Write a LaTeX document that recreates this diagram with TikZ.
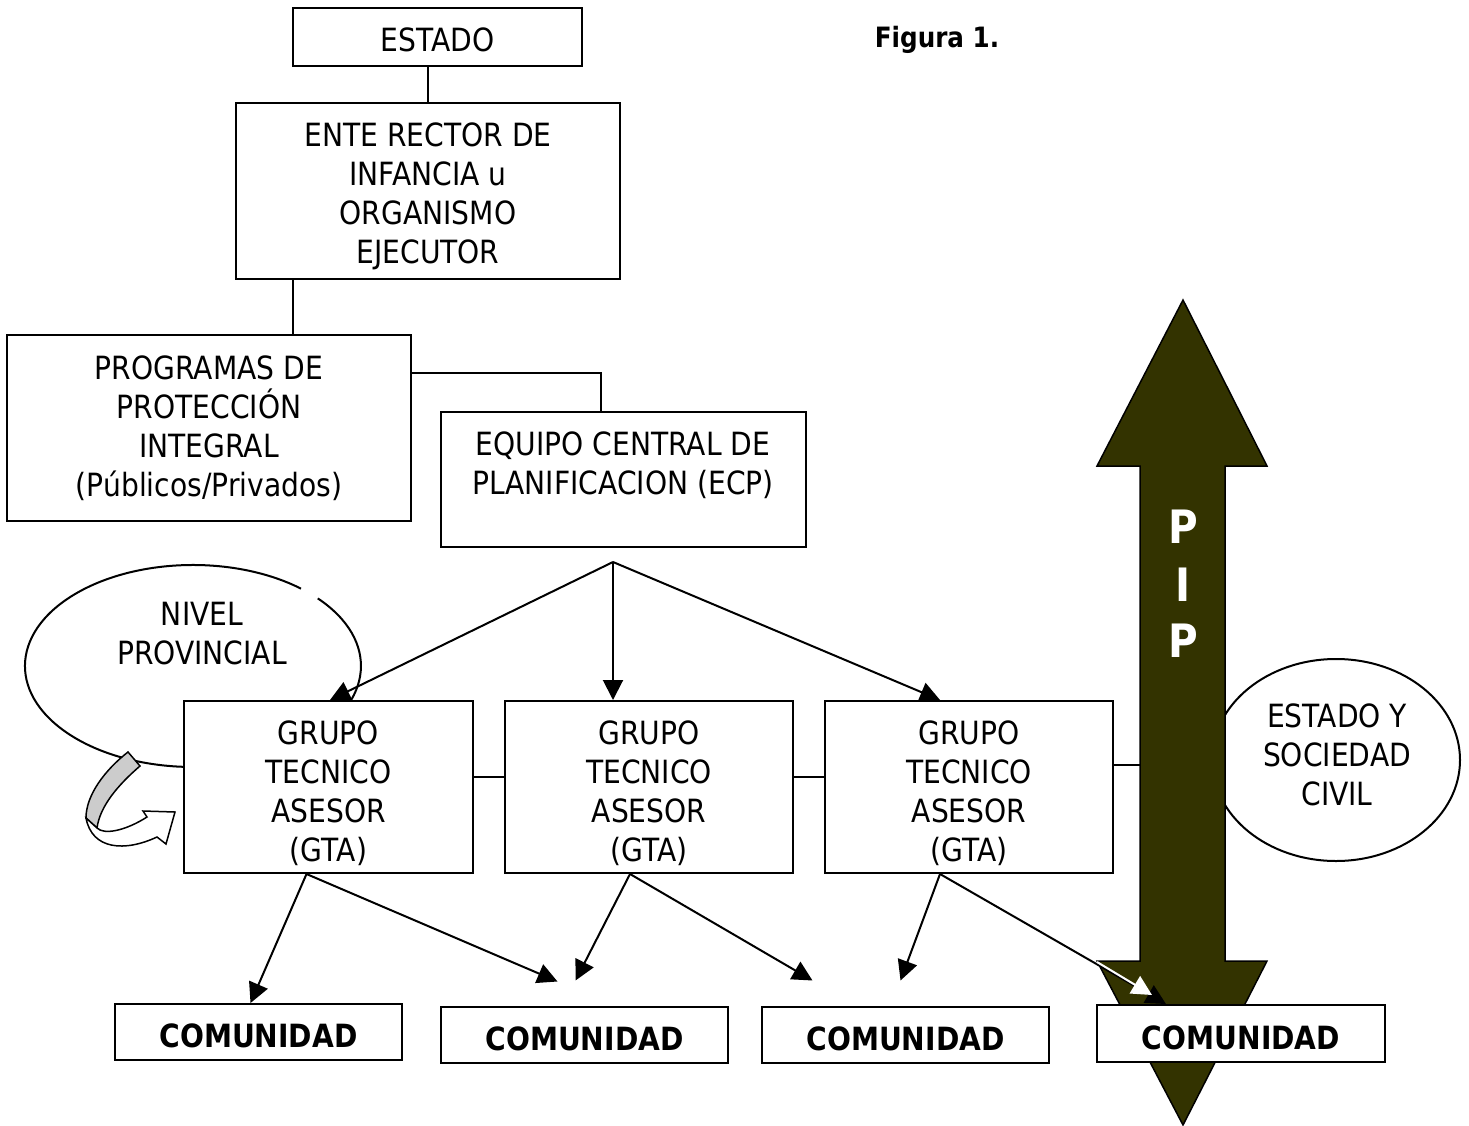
\documentclass[tikz,border=0pt]{standalone}
\usepackage{fontspec}
\setmainfont{DejaVu Sans}[FakeStretch=0.88]
\usetikzlibrary{arrows.meta,calc}
\definecolor{pipcol}{HTML}{333300}
\definecolor{bandgray}{HTML}{CCCCCC}
\newcommand{\txtdrop}[1]{\rule{0pt}{#1pt}}
\begin{document}
\begin{tikzpicture}[x=1pt,y=-1pt,
  box/.style={draw, line width=2pt, fill=white, inner sep=0pt, align=center,
    font=\fontsize{32}{39}\selectfont},
  combox/.style={box, minimum width=287pt, minimum height=56pt,
    font=\fontsize{32}{39}\selectfont\bfseries},
  gtabox/.style={box, minimum width=289pt, minimum height=172pt},
  txt/.style={align=center, inner sep=0pt, font=\fontsize{32}{39}\selectfont},
  conn/.style={line width=2pt},
  arr/.style={line width=2pt, -{Triangle[length=20pt,width=20pt]}},
  warr/.style={line width=2pt, white, -{Triangle[length=20pt,width=20pt]}}]
\useasboundingbox (0,0) rectangle (1469,1126);

% background ellipses
\draw[line width=2pt] (317.8,598.4) arc[start angle=-42, end angle=310, x radius=168, y radius=101];
\node[txt] (nivel) at (202,634) {NIVEL\\PROVINCIAL};
\draw[line width=2pt, fill=white] (1336,760) ellipse[x radius=124, y radius=101];
\node[txt] (soc) at (1337,755) {ESTADO Y\\SOCIEDAD\\CIVIL};

% PIP double arrow
\draw[line width=1.5pt, fill=pipcol] (1183,300) -- (1267,466) -- (1225,466) -- (1225,961) -- (1267,961)
  -- (1183,1125) -- (1097,961) -- (1140,961) -- (1140,466) -- (1097,466) -- cycle;
\node[inner sep=0pt, text=white, font=\fontsize{46}{46}\selectfont\bfseries] (pipP1) at (1183,527) {P};
\node[inner sep=0pt, text=white, font=\fontsize{46}{46}\selectfont\bfseries] (pipI) at (1183,585) {I};
\node[inner sep=0pt, text=white, font=\fontsize{46}{46}\selectfont\bfseries] (pipP2) at (1183,641) {P};

% title
\node[inner sep=0pt, font=\fontsize{28}{34}\selectfont\bfseries] (fig) at (937,40) {Figura 1.};

% top boxes
\node[box, minimum width=289pt, minimum height=58pt] (estado) at (437.5,37) {\txtdrop{29.5}ESTADO};
\node[box, minimum width=384pt, minimum height=176pt] (ente) at (428,191) {\txtdrop{33.5}ENTE RECTOR DE\\INFANCIA u\\ORGANISMO\\EJECUTOR};
\node[box, minimum width=404pt, minimum height=186pt] (prog) at (209,428) {PROGRAMAS DE\\PROTECCIÓN\\INTEGRAL\\(Públicos/Privados)};
\node[box, minimum width=365pt, minimum height=135pt] (ecp) at (623.5,479.5) {};
\node[txt] (ecptext) at (623,465) {EQUIPO CENTRAL DE\\PLANIFICACION (ECP)};

\coordinate (xl1) at (293,0);
\coordinate (xl2) at (601,0);
\coordinate (yl2) at (0,373);
\draw[conn] (estado.south -| ente.north) -- (ente.north);
\draw[conn] (ente.south -| xl1) -- (prog.north -| xl1);
\draw[conn] (prog.east |- yl2) -| (ecp.north -| xl2);

% GTA boxes
\node[gtabox] (gta1) at (328.5,787) {\txtdrop{35.5}GRUPO\\TECNICO\\ASESOR\\(GTA)};
\node[gtabox, minimum width=288pt] (gta2) at (649,787) {\txtdrop{35.5}GRUPO\\TECNICO\\ASESOR\\(GTA)};
\node[gtabox, minimum width=288pt] (gta3) at (969,787) {\txtdrop{35.5}GRUPO\\TECNICO\\ASESOR\\(GTA)};

\coordinate (fork) at (613,562);
\coordinate (t1) at (330,0);
\coordinate (t3) at (940,0);
\draw[arr] (fork) -- (gta1.north -| t1);
\draw[arr] (fork) -- (gta2.north -| fork);
\draw[arr] (fork) -- (gta3.north -| t3);

\coordinate (yg) at (0,777);
\coordinate (yg3) at (0,765);
\coordinate (shaft) at (1140,765);
\draw[conn] (gta1.east |- yg) -- (gta2.west |- yg);
\draw[conn] (gta2.east |- yg) -- (gta3.west |- yg);
\draw[conn] (gta3.east |- yg3) -- (shaft);
% redraw shaft over the joint
\fill[pipcol] (1141,700) rectangle (1224,800);

% curved block arrow
\draw[line width=1.5pt, fill=bandgray] (128,752) -- (140,766) .. controls (118,785) and (100,806) .. (97,828)
  -- (86,818) .. controls (86,795) and (105,770) .. (128,752) -- cycle;
\draw[line width=1.5pt, fill=white] (86,818) .. controls (92,850) and (125,852) .. (157,837) -- (166,844)
  -- (175,812) -- (143,811) -- (147,817) .. controls (125,831) and (104,835) .. (97,828) -- cycle;

% COMUNIDAD boxes
\node[combox] (com1) at (258.5,1032) {\txtdrop{31.5}COMUNIDAD};
\node[combox] (com2) at (584.5,1034.5) {\txtdrop{31.5}COMUNIDAD};
\node[combox] (com3) at (905.5,1034.5) {\txtdrop{31.5}COMUNIDAD};
\node[combox, minimum width=288pt, minimum height=57pt] (com4) at (1241,1033.5) {\txtdrop{31.5}COMUNIDAD};

% GTA -> COMUNIDAD arrows
\draw[arr] ([xshift=-22pt]gta1.south) -- ([xshift=-8pt]com1.north);
\draw[arr] ([xshift=-22pt]gta1.south) -- ([xshift=-27pt,yshift=24pt]com2.north);
\draw[arr] ([xshift=-19pt]gta2.south) -- ([xshift=-9pt,yshift=25pt]com2.north);
\draw[arr] ([xshift=-19pt]gta2.south) -- ([xshift=-93pt,yshift=25pt]com3.north);
\draw[arr] ([xshift=-29pt]gta3.south) -- ([xshift=-5pt,yshift=25pt]com3.north);
\draw[arr] ([xshift=-29pt]gta3.south) -- ([xshift=-75pt]com4.north);
\coordinate (wstart) at (1097,962);
\coordinate (wend) at (1152,995);
\draw[warr] (wstart) -- (wend);
\end{tikzpicture}
\end{document}
